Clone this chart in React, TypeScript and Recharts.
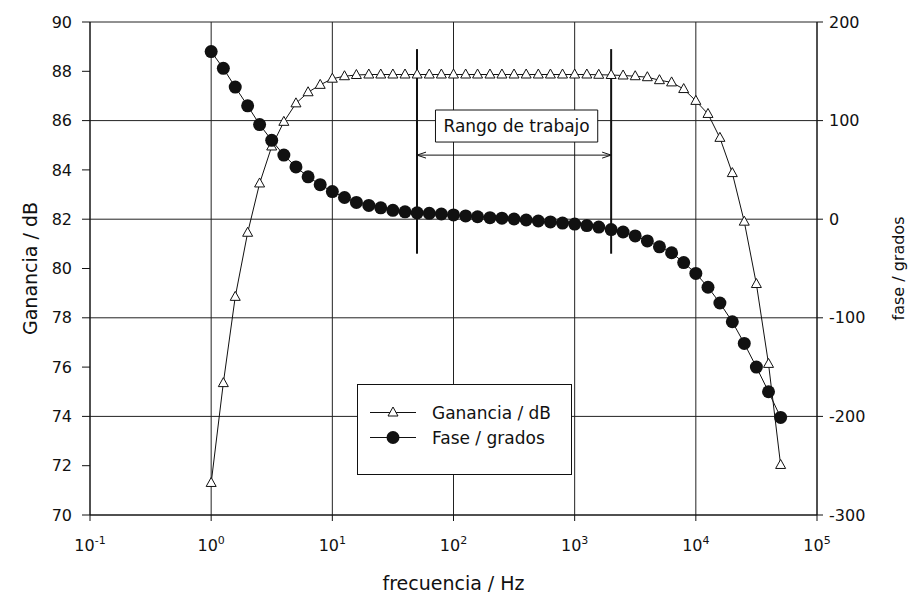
import {
  ComposedChart,
  Line,
  XAxis,
  YAxis,
  CartesianGrid,
  Legend,
  Label,
  ReferenceLine,
  ReferenceArea,
} from 'recharts'

const FONT = '"DejaVu Sans", "Liberation Sans", Arial, sans-serif'
const INK = '#111'

// frequency of each measurement, Hz (10 points per decade)
const FREQ = [
  1, 1.26, 1.58, 2, 2.51, 3.16, 3.98, 5.01, 6.31, 7.94,
  10, 12.6, 15.8, 20, 25.1, 31.6, 39.8, 50.1, 63.1, 79.4,
  100, 126, 158, 200, 251, 316, 398, 501, 631, 794,
  1000, 1260, 1580, 2000, 2510, 3160, 3980, 5010, 6310, 7940,
  10000, 12600, 15800, 20000, 25100, 31600, 39800, 50100,
]

// gain, dB
const GAIN = [
  71.3, 75.35, 78.85, 81.45, 83.45, 84.95, 85.95, 86.7, 87.15, 87.45,
  87.7, 87.8, 87.85, 87.87, 87.87, 87.87, 87.87, 87.87, 87.87, 87.87,
  87.87, 87.87, 87.87, 87.87, 87.87, 87.87, 87.87, 87.87, 87.87, 87.87,
  87.87, 87.87, 87.86, 87.85, 87.83, 87.8, 87.76, 87.64, 87.55, 87.28,
  86.8, 86.27, 85.3, 83.87, 81.9, 79.37, 76.13, 72.03,
]

// phase, degrees
const PHASE = [
  170, 153, 134, 115, 96, 80, 65, 53, 43, 35,
  28, 22, 17, 14, 11.5, 9, 7.5, 6.5, 6, 5.3,
  4.3, 3.3, 2.5, 1.5, 1, 0.2, -0.8, -1.8, -2.8, -3.9,
  -4.9, -6.5, -8, -10.5, -13, -17, -22, -28, -34, -44,
  -55, -69, -85, -104, -126, -150, -175, -201,
]

const X_TICKS = [0.1, 1, 10, 100, 1000, 10000, 100000]
const GAIN_TICKS = [70, 72, 74, 76, 78, 80, 82, 84, 86, 88, 90]
const PHASE_TICKS = [-300, -200, -100, 0, 100, 200]
const LEGEND_ORDER = ['gain', 'phase']

// "Rango de trabajo" annotation (Hz / dB)
const RANGE_FREQ = [50, 2000]
const RANGE_TOP = 88.9
const RANGE_BOTTOM = 80.6
const RANGE_ARROW = 84.6
const RANGE_BOX_FREQ = [71, 1550]
const RANGE_BOX_GAIN = [85.13, 86.43]

const data = FREQ.map((f, i) => ({ f, gain: GAIN[i], phase: PHASE[i] }))

function FreqTick({ x, y, payload }: any) {
  const exp = Math.round(Math.log10(payload.value))
  return (
    <text x={x} y={y + 28} textAnchor="middle" fontSize={16} fill={INK} fontFamily={FONT}>
      10
      <tspan dy={-7} fontSize={11}>
        {exp}
      </tspan>
    </text>
  )
}

function TriangleDot({ cx, cy, index }: any) {
  if (cx == null || cy == null) return <g key={index} />
  return (
    <path
      key={index}
      d={`M${cx},${cy - 5.5} L${cx + 5},${cy + 3.5} L${cx - 5},${cy + 3.5} Z`}
      fill="#fff"
      stroke={INK}
      strokeWidth={1}
    />
  )
}

function CircleDot({ cx, cy, index }: any) {
  if (cx == null || cy == null) return <g key={index} />
  return <circle key={index} cx={cx} cy={cy} r={6.5} fill={INK} stroke="none" />
}

// horizontal line with an open arrowhead at each end
function DoubleArrow({ x1, y1, x2, y2 }: any) {
  return (
    <g stroke={INK} strokeWidth={1} fill="none">
      <line x1={x1} y1={y1} x2={x2} y2={y2} />
      <polyline points={`${x1 + 9},${y1 - 3} ${x1},${y1} ${x1 + 9},${y1 + 3}`} />
      <polyline points={`${x2 - 9},${y2 - 3} ${x2},${y2} ${x2 - 9},${y2 + 3}`} />
    </g>
  )
}

function LegendBox({ payload }: any) {
  const items = [...(payload ?? [])].sort(
    (a: any, b: any) => LEGEND_ORDER.indexOf(a.dataKey) - LEGEND_ORDER.indexOf(b.dataKey)
  )
  return (
    <div
      style={{
        width: 213,
        height: 74,
        border: `1px solid ${INK}`,
        background: '#fff',
        paddingTop: 15,
        boxSizing: 'content-box',
        fontFamily: FONT,
        fontSize: 17,
        color: INK,
      }}
    >
      {items.map((item: any) => (
        <div key={item.value} style={{ display: 'flex', alignItems: 'center', height: 25 }}>
          <svg width={46} height={25} style={{ marginLeft: 12 }}>
            <line x1={0} y1={12.5} x2={46} y2={12.5} stroke={INK} strokeWidth={1} />
            {item.dataKey === 'gain' ? (
              <TriangleDot cx={23} cy={12.5} index={0} />
            ) : (
              <CircleDot cx={23} cy={12.5} index={1} />
            )}
          </svg>
          <span style={{ marginLeft: 16 }}>{item.value}</span>
        </div>
      ))}
    </div>
  )
}

export default function App() {
  return (
    <ComposedChart
      width={902}
      height={586}
      data={data}
      margin={{ top: 14, right: 0, bottom: 0, left: 0 }}
      style={{ fontFamily: FONT, background: '#fff' }}
    >
      <CartesianGrid yAxisId="phase" stroke="#222" strokeWidth={1} />
      <XAxis
        dataKey="f"
        type="number"
        scale="log"
        domain={[0.1, 100000]}
        ticks={X_TICKS}
        interval={0}
        allowDataOverflow
        height={79}
        tickSize={6}
        tickMargin={2}
        tick={<FreqTick />}
        stroke={INK}
      >
        <Label value="frecuencia / Hz" position="insideBottom" offset={4} fontSize={19} fill={INK} />
      </XAxis>
      <YAxis
        yAxisId="gain"
        orientation="left"
        domain={[70, 90]}
        ticks={GAIN_TICKS}
        interval={0}
        width={82}
        tickSize={8}
        tickMargin={10}
        tick={{ fontSize: 16, fill: INK }}
        stroke={INK}
      >
        <Label
          value="Ganancia / dB"
          angle={-90}
          position="insideLeft"
          offset={22}
          fontSize={19}
          fill={INK}
          style={{ textAnchor: 'middle' }}
        />
      </YAxis>
      <YAxis
        yAxisId="phase"
        orientation="right"
        domain={[-300, 200]}
        ticks={PHASE_TICKS}
        interval={0}
        width={93}
        tickSize={6}
        tickMargin={6}
        tick={{ fontSize: 16, fill: INK }}
        stroke={INK}
      >
        <Label
          value="fase / grados"
          angle={-90}
          position="insideRight"
          offset={12}
          fontSize={16}
          fill={INK}
          style={{ textAnchor: 'middle' }}
        />
      </YAxis>

      <ReferenceArea
        yAxisId="gain"
        x1={RANGE_BOX_FREQ[0]}
        x2={RANGE_BOX_FREQ[1]}
        y1={RANGE_BOX_GAIN[0]}
        y2={RANGE_BOX_GAIN[1]}
        fill="#fff"
        fillOpacity={1}
        stroke={INK}
        strokeWidth={1}
        ifOverflow="visible"
      >
        <Label value="Rango de trabajo" position="center" fontSize={17} fill={INK} />
      </ReferenceArea>
      {RANGE_FREQ.map((f) => (
        <ReferenceLine
          key={f}
          yAxisId="gain"
          segment={[
            { x: f, y: RANGE_TOP },
            { x: f, y: RANGE_BOTTOM },
          ]}
          stroke={INK}
          strokeWidth={2}
        />
      ))}
      <ReferenceLine
        yAxisId="gain"
        segment={[
          { x: RANGE_FREQ[0], y: RANGE_ARROW },
          { x: RANGE_FREQ[1], y: RANGE_ARROW },
        ]}
        shape={<DoubleArrow />}
      />

      <Line
        yAxisId="gain"
        dataKey="gain"
        name="Ganancia / dB"
        stroke={INK}
        strokeWidth={1}
        dot={TriangleDot}
        activeDot={false}
        isAnimationActive={false}
      />
      <Line
        yAxisId="phase"
        dataKey="phase"
        name="Fase / grados"
        stroke={INK}
        strokeWidth={1}
        dot={CircleDot}
        activeDot={false}
        isAnimationActive={false}
      />
      <Legend
        layout="vertical"
        verticalAlign="middle"
        align="center"
        content={<LegendBox />}
        wrapperStyle={{ left: 349, top: 376, width: 215 }}
      />
    </ComposedChart>
  )
}
